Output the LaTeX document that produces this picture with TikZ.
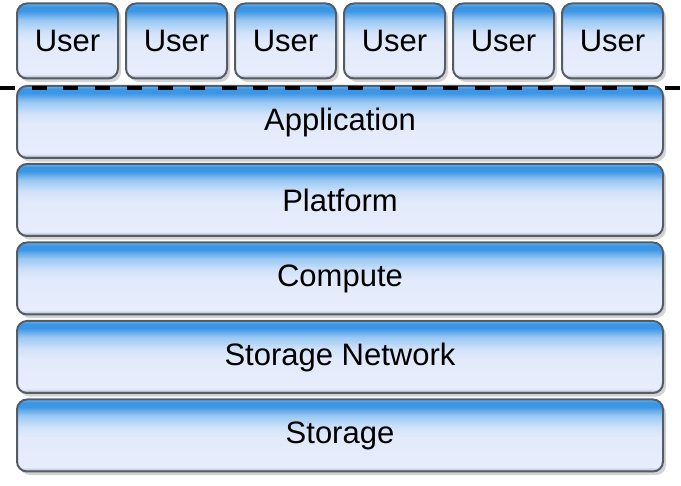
\documentclass[tikz,border=0pt]{standalone}
\usepackage{fontspec}
\setmainfont{Liberation Sans}
\usepackage{xcolor}
\usepackage{tikz}
\usetikzlibrary{shadows}

\definecolor{kantlinje}{HTML}{545C66}
\definecolor{blatopp}{HTML}{62B6F6}
\definecolor{blamork}{HTML}{3D96E5}
\definecolor{blamitt}{HTML}{98C7F3}
\definecolor{ljus}{HTML}{E2EAFB}
\definecolor{ljusbotten}{HTML}{E7EDFC}
\definecolor{gratt}{HTML}{A4ADBB}
% skuggningen skalas så att 25bp--75bp täcker noden
\pgfdeclareverticalshading{lagskugga}{100bp}{%
  color(0bp)=(gratt); color(25bp)=(gratt); color(28bp)=(ljusbotten);
  color(49bp)=(ljus); color(56bp)=(ljus!75!blamitt);
  color(64bp)=(blamitt); color(70bp)=(blamork);
  color(73bp)=(blamork); color(75bp)=(blatopp); color(100bp)=(blatopp)}

\begin{document}
\begin{tikzpicture}[
    x=0.5pt, y=-0.5pt,
    font=\fontsize{15.5}{18}\selectfont,
    lager/.style={draw=kantlinje, line width=1pt, rounded corners=5pt,
                  shading=lagskugga, minimum height=36pt, minimum width=323pt,
                  inner sep=0pt, drop shadow={shadow xshift=1.5pt,
                  shadow yshift=-1.8pt, opacity=0.35}},
    anvandare/.style={lager, minimum width=50.5pt, minimum height=37.5pt},
    snitt/.style={line width=2pt, dash pattern=on 7.5pt off 8.33pt}
  ]
    \useasboundingbox (0,0) rectangle (681,486);

    \node[anvandare] (u1) at (67.5,41) {User};
    \node[anvandare] (u2) at (176.5,41) {User};
    \node[anvandare] (u3) at (285.5,41) {User};
    \node[anvandare] (u4) at (394.5,41) {User};
    \node[anvandare] (u5) at (503.5,41) {User};
    \node[anvandare] (u6) at (612.5,41) {User};

    \node[lager] (app) at (340,122) {Application};
    \node[lager] (plattform) at (340,200) {Platform};
    \node[lager] (berakning) at (340,278.5) {Compute};
    \node[lager] (natverk) at (340,357) {Storage Network};
    \node[lager] (lagring) at (340,435.5) {Storage};

    \coordinate (snittV) at (0,88);
    \coordinate (snittH) at (681,88);
    \draw[snitt] (snittV) -- (snittH);
  \end{tikzpicture}
\end{document}
